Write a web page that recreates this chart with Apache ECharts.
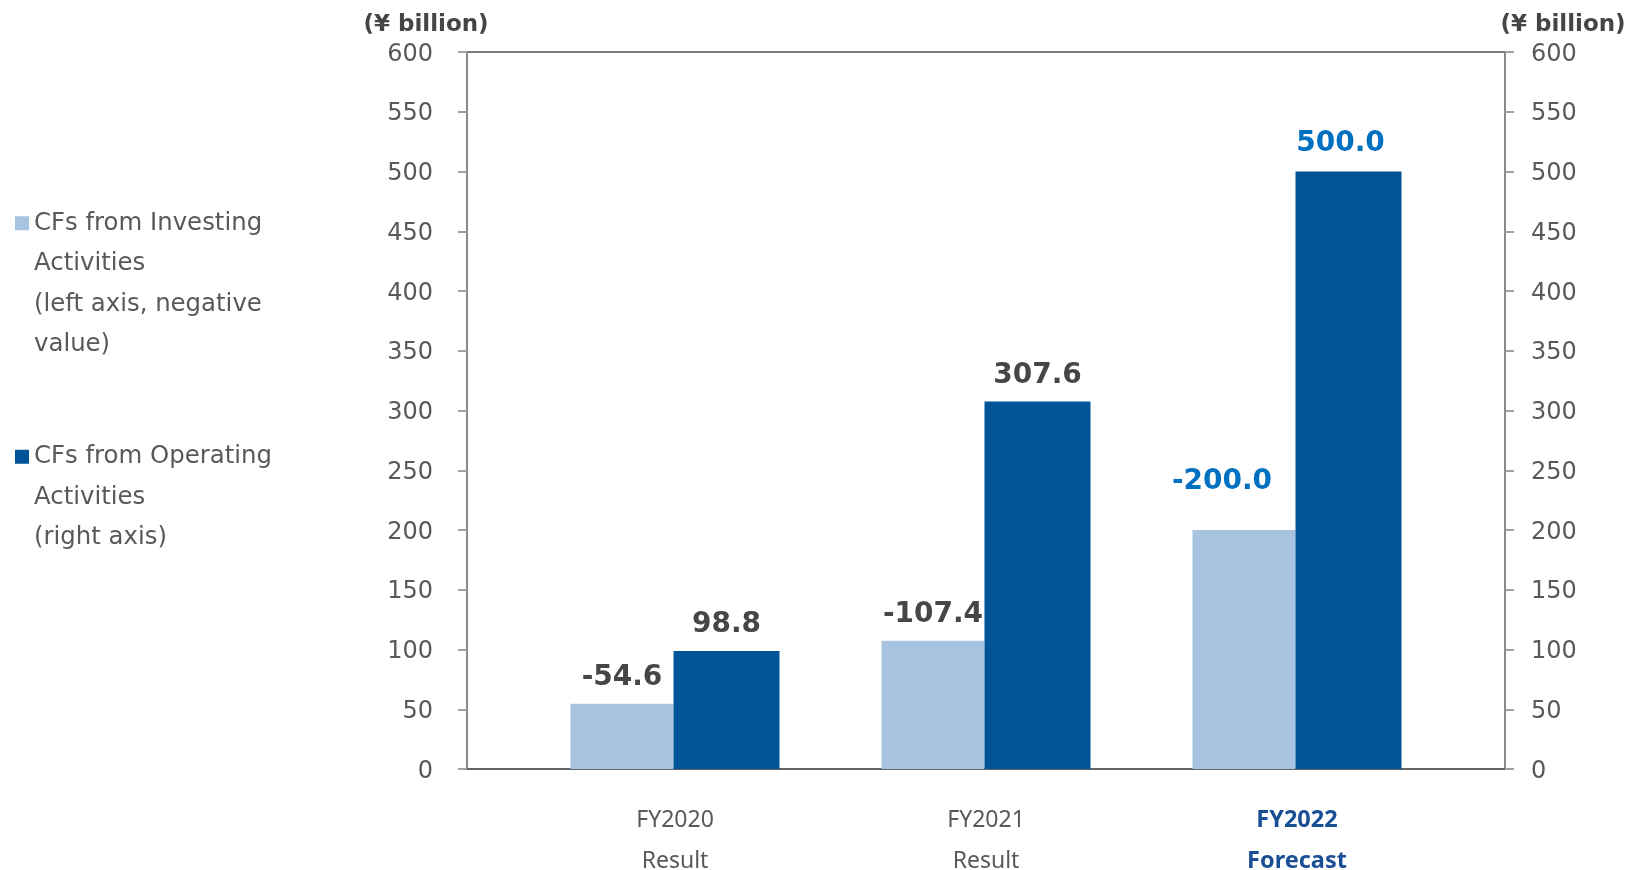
<!DOCTYPE html>
<html>
<head>
<meta charset="utf-8">
<title>Cash Flows</title>
<script src="https://cdn.jsdelivr.net/npm/echarts@6/dist/echarts.min.js"></script>
<style>
  html, body { margin: 0; padding: 0; background: #ffffff; }
  #chart { width: 1631px; height: 870px; }
</style>
</head>
<body>
<div id="chart"></div>
<script>
// Fiscal years and their status line
const years = ['FY2020', 'FY2021', 'FY2022'];
const yearStatus = ['Result', 'Result', 'Forecast'];

// Cash flows, ¥ billion
const investingCF = [-54.6, -107.4, -200.0];
const operatingCF = [98.8, 307.6, 500.0];

// Axis scale (both axes share it)
const axisMin = 0;
const axisMax = 600;
const axisStep = 50;

// Legend wording, one entry per line
const investingLegend = ['CFs from Investing', 'Activities', '(left axis, negative', 'value)'];
const operatingLegend = ['CFs from Operating', 'Activities', '(right axis)'];

const investingName = investingLegend.join(' ');
const operatingName = operatingLegend.join(' ');

const FONT = '"DejaVu Sans", Verdana, sans-serif';
const CAT_FONT = '"Noto Sans", sans-serif';
const LIGHT = '#a7c3df';
const DARK = '#005497';
const FORECAST_BLUE = '#0070c0';
const GREY_TEXT = '#595959';
const forecastIndex = yearStatus.indexOf('Forecast');

// Legend text: pad with blank lines so the colour chip sits beside the first line
function legendText(lines) {
  const pad = new Array(lines.length - 1).fill('');
  return pad.concat(lines).join('\n');
}

function labelFor(series, values) {
  return values.map((v, i) => {
    const item = { value: Math.abs(v), raw: v };
    if (i === forecastIndex) {
      item.label = {
        color: FORECAST_BLUE,
        offset: series === 'inv' ? [-22, -22] : [-8, -2]
      };
    }
    return item;
  });
}

const valueLabel = {
  show: true,
  position: 'top',
  distance: 12,
  fontFamily: FONT,
  fontWeight: 'bold',
  fontSize: 28,
  color: '#464646',
  formatter: p => p.data.raw.toFixed(1)
};

function sideAxis(position, margin, namePadding) {
  return {
    type: 'value',
    gridIndex: 0,
    position: position,
    min: axisMin,
    max: axisMax,
    interval: axisStep,
    name: '(¥ billion)',
    nameLocation: 'end',
    nameGap: 27,
    nameTextStyle: {
      fontFamily: FONT,
      fontWeight: 'bold',
      fontSize: 23,
      color: '#454545',
      align: 'center',
      verticalAlign: 'middle',
      padding: namePadding
    },
    axisLine: { show: true, onZero: false, lineStyle: { color: '#8a8a8a', width: 2 } },
    axisTick: { show: true, inside: false, length: 9, lineStyle: { color: '#a0a0a0', width: 2 } },
    axisLabel: {
      show: true,
      margin: margin,
      formatter: v => '{t|' + v + '}',
      rich: {
        t: { fontFamily: FONT, fontSize: 24, color: GREY_TEXT, padding: [5, 0, 0, 0] }
      }
    },
    splitLine: { show: false }
  };
}

function hiddenAxis() {
  return {
    type: 'value',
    gridIndex: 1,
    min: axisMin,
    max: axisMax,
    interval: axisStep,
    show: false,
    splitLine: { show: false }
  };
}

function legendBlock(name, lines, top) {
  return {
    data: [name],
    left: 15,
    top: top,
    padding: 0,
    icon: 'rect',
    itemWidth: 14,
    itemHeight: 14,
    selectedMode: false,
    textStyle: { fontFamily: FONT, fontSize: 24.4, lineHeight: 40.5, color: GREY_TEXT },
    formatter: () => legendText(lines)
  };
}

const chart = echarts.init(document.getElementById('chart'), null, { renderer: 'canvas' });

chart.setOption({
  backgroundColor: '#ffffff',
  animation: false,
  grid: [
    // plot frame with both value axes
    { left: 467, right: 126, top: 52, bottom: 101, containLabel: false, outerBoundsMode: 'none' },
    // bar area, inset inside the frame
    { left: 519.5, right: 178.5, top: 52, bottom: 101, containLabel: false, outerBoundsMode: 'none' }
  ],
  legend: [
    legendBlock(investingName, investingLegend, 81.5),
    legendBlock(operatingName, operatingLegend, 355.5)
  ],
  xAxis: [
    {
      type: 'category',
      gridIndex: 0,
      position: 'bottom',
      data: [''],
      axisLine: { show: true, onZero: false, lineStyle: { color: '#646464', width: 2 } },
      axisTick: { show: false },
      axisLabel: { show: false },
      splitLine: { show: false }
    },
    {
      type: 'category',
      gridIndex: 0,
      position: 'top',
      data: [''],
      axisLine: { show: true, onZero: false, lineStyle: { color: '#7a7a7a', width: 2 } },
      axisTick: { show: false },
      axisLabel: { show: false },
      splitLine: { show: false }
    },
    {
      type: 'category',
      gridIndex: 1,
      data: years,
      axisLine: { show: false },
      axisTick: { show: false },
      splitLine: { show: false },
      axisLabel: {
        margin: 31,
        interval: 0,
        formatter: (value, idx) => {
          const s = yearStatus[idx] === 'Forecast' ? 'f' : 'r';
          return '{' + s + '|' + value + '}\n{' + s + '|' + yearStatus[idx] + '}';
        },
        rich: {
          r: { fontFamily: CAT_FONT, fontSize: 23, lineHeight: 41, color: GREY_TEXT },
          f: { fontFamily: CAT_FONT, fontSize: 23.5, lineHeight: 41, color: '#1a4f96', fontWeight: 'bold' }
        }
      }
    }
  ],
  yAxis: [
    sideAxis('left', 34, [0, 82, 0, 0]),
    sideAxis('right', 26, [0, 0, 0, 116]),
    hiddenAxis(),
    hiddenAxis()
  ],
  series: [
    {
      name: investingName,
      type: 'bar',
      xAxisIndex: 2,
      yAxisIndex: 2,
      barWidth: 103,
      barGap: '0%',
      itemStyle: { color: LIGHT },
      label: valueLabel,
      data: labelFor('inv', investingCF)
    },
    {
      name: operatingName,
      type: 'bar',
      xAxisIndex: 2,
      yAxisIndex: 3,
      barWidth: 106,
      barGap: '0%',
      itemStyle: { color: DARK },
      label: valueLabel,
      data: labelFor('op', operatingCF)
    }
  ]
});
</script>
</body>
</html>
